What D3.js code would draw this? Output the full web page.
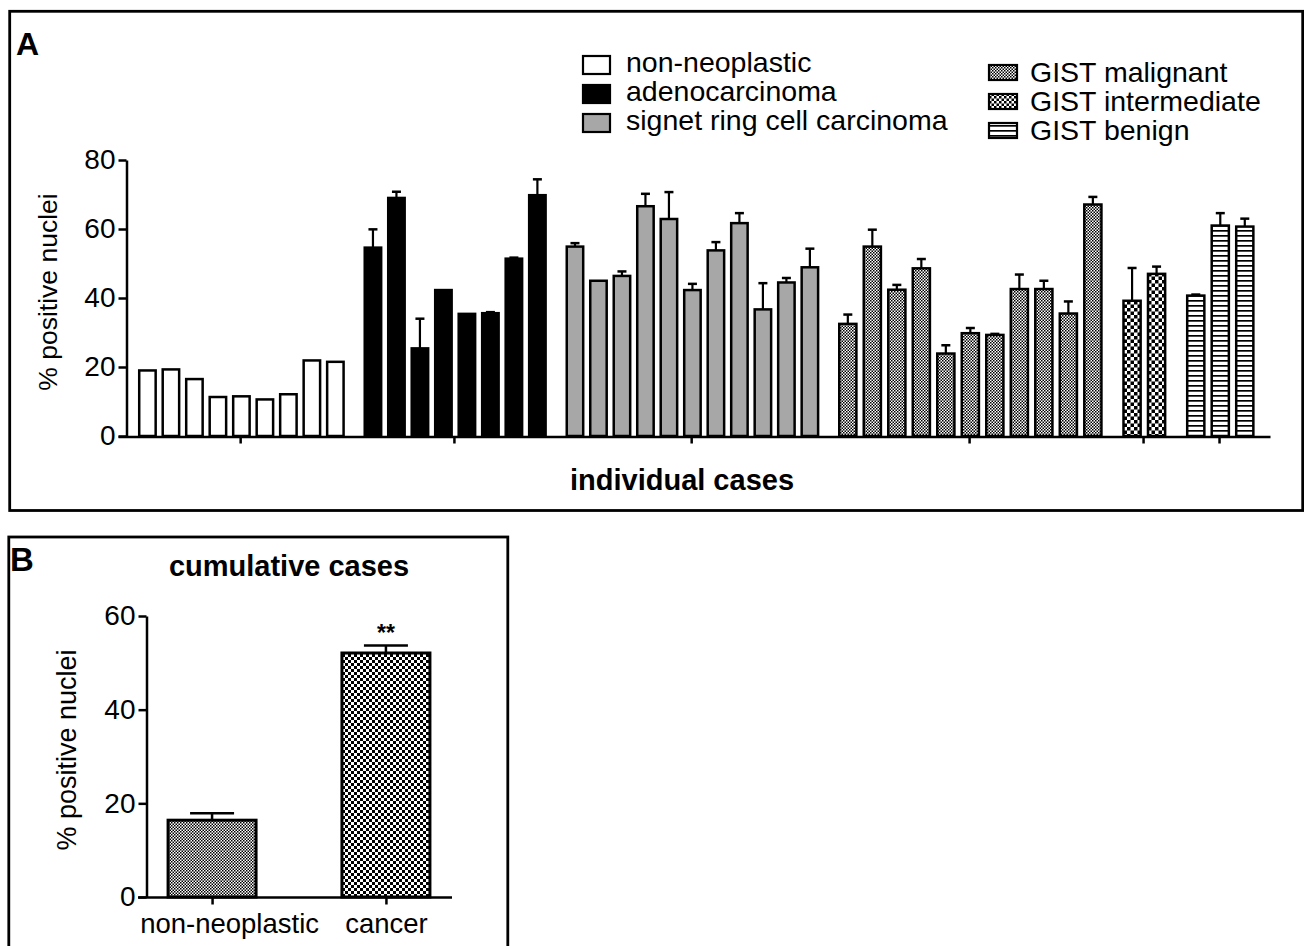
<!DOCTYPE html>
<html><head><meta charset="utf-8">
<script src="https://cdn.jsdelivr.net/npm/d3@7"></script>
<style>
body{margin:0;background:#fff}
svg{display:block}
text{font-family:"Liberation Sans",Arial,Helvetica,sans-serif;fill:#000}
</style>
</head><body>
<svg id="c" width="1304" height="946"></svg>
<script>
// ---------- DATA ----------
const groupNames = ["non-neoplastic","adenocarcinoma","signet ring cell carcinoma","GIST malignant","GIST intermediate","GIST benign"];
const nonNeoplastic      = [19.0, 19.3, 16.5, 11.3, 11.5, 10.6, 12.1, 21.9, 21.5];
const nonNeoplasticErr   = [0, 0, 0, 0, 0, 0, 0, 0, 0];
const adenocarcinoma     = [54.6, 69.0, 25.4, 42.3, 35.4, 35.6, 51.4, 69.8];
const adenocarcinomaErr  = [5.3, 1.8, 8.6, 0, 0, 0.3, 0.3, 4.6];
const signetRing         = [54.9, 45.0, 46.4, 66.6, 62.9, 42.3, 53.8, 61.7, 36.7, 44.5, 48.9];
const signetRingErr      = [1.0, 0, 1.3, 3.6, 7.8, 1.8, 2.4, 2.9, 7.6, 1.3, 5.4];
const gistMalignant      = [32.5, 54.9, 42.4, 48.6, 23.9, 29.8, 29.3, 42.6, 42.6, 35.5, 67.1];
const gistMalignantErr   = [2.7, 4.9, 1.4, 2.7, 2.4, 1.5, 0.3, 4.2, 2.4, 3.5, 2.2];
const gistIntermediate   = [39.2, 47.0];
const gistIntermediateErr= [9.5, 2.1];
const gistBenign         = [40.7, 61.0, 60.7];
const gistBenignErr      = [0.3, 3.6, 2.3];
const yTicksA = [0, 20, 40, 60, 80];

const cumulativeCats   = ["non-neoplastic", "cancer"];
const cumulativeValues = [16.4, 52.1];
const cumulativeErrors = [1.5, 1.6];
const yTicksB = [0, 20, 40, 60];

const groupValues = [nonNeoplastic, adenocarcinoma, signetRing, gistMalignant, gistIntermediate, gistBenign];
const groupErrors = [nonNeoplasticErr, adenocarcinomaErr, signetRingErr, gistMalignantErr, gistIntermediateErr, gistBenignErr];

// ---------- SETUP ----------
const svg = d3.select("#c");
const defs = svg.append("defs");
function checker(id, cell){
  const p = defs.append("pattern").attr("id", id).attr("patternUnits","userSpaceOnUse")
    .attr("width", cell*2).attr("height", cell*2);
  p.append("rect").attr("width", cell*2).attr("height", cell*2).attr("fill","#fff");
  p.append("rect").attr("width", cell).attr("height", cell).attr("fill","#000");
  p.append("rect").attr("x", cell).attr("y", cell).attr("width", cell).attr("height", cell).attr("fill","#000");
}
checker("fine", 1.5);
checker("checkA", 3.5);
checker("checkB", 3);
checker("checkL", 2.5);
(function(){
  const p = defs.append("pattern").attr("id","stripes").attr("patternUnits","userSpaceOnUse")
    .attr("width", 4).attr("height", 5);
  p.append("rect").attr("width",4).attr("height",5).attr("fill","#fff");
  p.append("rect").attr("y",0).attr("width",4).attr("height",1.7).attr("fill","#000");
})();
const fills = ["#fff", "#000", "#a7a7a7", "url(#fine)", "url(#checkA)", "url(#stripes)"];
const legendFills = ["#fff", "#000", "#a7a7a7", "url(#fine)", "url(#checkL)", "url(#stripes)"];

function styleAxis(g, size){
  g.attr("font-family", null).attr("font-size", null);
  g.select(".domain").attr("stroke-width", 2.5);
  g.selectAll(".tick line").attr("stroke-width", 2.5);
  g.selectAll(".tick text").style("font-size", size + "px");
}

// ---------- FRAMES ----------
svg.append("rect").attr("x", 9.7).attr("y", 11.3).attr("width", 1293).attr("height", 499.2)
  .attr("fill","none").attr("stroke","#000").attr("stroke-width", 2.8);
svg.append("rect").attr("x", 8.8).attr("y", 537).attr("width", 499).attr("height", 430)
  .attr("fill","none").attr("stroke","#000").attr("stroke-width", 2.8);

svg.append("text").attr("x", 16).attr("y", 55).style("font-size","32px").style("font-weight","bold").text("A");
svg.append("text").attr("x", 10).attr("y", 571).style("font-size","33px").style("font-weight","bold").text("B");

// ---------- PANEL A ----------
const GAP = 0.6, BAR = 0.7;
const bars = [], centers = [];
let slot = 0;
groupValues.forEach((vals, g) => {
  const start = slot + g*GAP;
  vals.forEach((v, i) => { bars.push({g, u: slot + g*GAP, v, e: groupErrors[g][i]}); slot++; });
  centers.push((start + (slot - 1 + g*GAP) + BAR) / 2);
});
const uBreak = bars.find(d => d.g === 3).u;
const uLast = bars[bars.length-1].u;
const xA = d3.scaleLinear().domain([-0.85, uBreak, uLast + 1.43]).range([118, 838, 1270]);
const yA = d3.scaleLinear().domain([0, 80]).range([436, 160]);

const gA = svg.append("g");
const barSel = gA.selectAll("g.bar").data(bars).join("g").attr("class","bar");
barSel.append("rect")
  .attr("x", d => xA(d.u) + 1.25)
  .attr("y", d => yA(d.v))
  .attr("width", d => xA(d.u + BAR) - xA(d.u))
  .attr("height", d => yA(0) - yA(d.v))
  .attr("fill", d => fills[d.g]).attr("stroke","#000").attr("stroke-width", 2.5);
const errA = barSel.filter(d => d.e > 0);
errA.append("line")
  .attr("x1", d => xA(d.u) + 1.25 + (xA(d.u + BAR) - xA(d.u))/2)
  .attr("x2", d => xA(d.u) + 1.25 + (xA(d.u + BAR) - xA(d.u))/2)
  .attr("y1", d => yA(d.v)).attr("y2", d => yA(d.v + d.e))
  .attr("stroke","#000").attr("stroke-width", 2.2);
errA.append("line")
  .attr("x1", d => xA(d.u) + 1.25 + (xA(d.u + BAR) - xA(d.u))/2 - 4.5)
  .attr("x2", d => xA(d.u) + 1.25 + (xA(d.u + BAR) - xA(d.u))/2 + 4.5)
  .attr("y1", d => yA(d.v + d.e)).attr("y2", d => yA(d.v + d.e))
  .attr("stroke","#000").attr("stroke-width", 2.5);

const yAxA = svg.append("g").attr("transform","translate(126.5,0)")
  .call(d3.axisLeft(yA).tickValues(yTicksA).tickSize(8).tickSizeOuter(0).tickPadding(3).tickFormat(d3.format("d")));
styleAxis(yAxA, 28);
const xAxA = svg.append("g").attr("transform","translate(0,436.5)")
  .call(d3.axisBottom(xA).tickValues(centers.map(c => c)).tickSize(7).tickSizeOuter(0).tickFormat(""));
styleAxis(xAxA, 20);

svg.append("text").attr("transform","translate(57,292) rotate(-90)").attr("text-anchor","middle")
  .style("font-size","26.5px").text("% positive nuclei");
svg.append("text").attr("x", 682).attr("y", 490).attr("text-anchor","middle")
  .style("font-size","29px").style("font-weight","bold").text("individual cases");

// legend
const leg = svg.append("g");
const legItems = leg.selectAll("g").data(groupNames).join("g")
  .attr("transform", (d, i) => i < 3
    ? `translate(583,${72 + i*29})`
    : `translate(989,${82 + (i-3)*29})`);
legItems.append("rect")
  .attr("x", 0)
  .attr("y", (d, i) => i < 3 ? -16 : -17)
  .attr("width", (d, i) => i < 3 ? 27 : 28)
  .attr("height", (d, i) => i < 3 ? 18 : 15)
  .attr("fill", (d, i) => legendFills[i]).attr("stroke","#000").attr("stroke-width", 2.2);
legItems.append("text")
  .attr("x", (d, i) => i < 3 ? 43 : 41)
  .attr("y", 0)
  .style("font-size","28.5px").text(d => d);

// ---------- PANEL B ----------
const xB = d3.scalePoint().domain(cumulativeCats).range([146, 452]).padding(0.38);
const yB = d3.scaleLinear().domain([0, 60]).range([897, 616]);
const BW = 88;
const bData = cumulativeCats.map((c, i) => ({c, v: cumulativeValues[i], e: cumulativeErrors[i], f: i === 0 ? "url(#fine)" : "url(#checkB)"}));
const gB = svg.append("g");
gB.selectAll("rect").data(bData).join("rect")
  .attr("x", d => xB(d.c) - BW/2).attr("y", d => yB(d.v))
  .attr("width", BW).attr("height", d => yB(0) - yB(d.v))
  .attr("fill", d => d.f).attr("stroke","#000").attr("stroke-width", 3);
gB.selectAll("line.ev").data(bData).join("line").attr("class","ev")
  .attr("x1", d => xB(d.c)).attr("x2", d => xB(d.c))
  .attr("y1", d => yB(d.v)).attr("y2", d => yB(d.v + d.e))
  .attr("stroke","#000").attr("stroke-width", 2.5);
gB.selectAll("line.ec").data(bData).join("line").attr("class","ec")
  .attr("x1", d => xB(d.c) - 22).attr("x2", d => xB(d.c) + 22)
  .attr("y1", d => yB(d.v + d.e)).attr("y2", d => yB(d.v + d.e))
  .attr("stroke","#000").attr("stroke-width", 2.5);

svg.append("line").attr("x1", 138).attr("x2", 452).attr("y1", 897.5).attr("y2", 897.5)
  .attr("stroke","#000").attr("stroke-width", 2.5);
const yAxB = svg.append("g").attr("transform","translate(146.5,0)")
  .call(d3.axisLeft(yB).tickValues(yTicksB).tickSize(8).tickSizeOuter(0).tickPadding(3).tickFormat(d3.format("d")));
styleAxis(yAxB, 28);
const xAxB = svg.append("g").attr("transform","translate(0,897.5)")
  .call(d3.axisBottom(xB).tickSize(7).tickSizeOuter(0).tickPadding(9));
styleAxis(xAxB, 27.5);
xAxB.select(".domain").remove();
xAxB.selectAll(".tick text").attr("dx", (d, i) => i === 0 ? 17 : 0);

svg.append("text").attr("transform","translate(76,750) rotate(-90)").attr("text-anchor","middle")
  .style("font-size","27px").text("% positive nuclei");
svg.append("text").attr("x", 289).attr("y", 576).attr("text-anchor","middle")
  .style("font-size","29px").style("font-weight","bold").text("cumulative cases");
svg.append("text").attr("x", xB("cancer")).attr("y", 641).attr("text-anchor","middle")
  .style("font-size","23px").style("font-weight","bold").text("**");
</script>
</body></html>
